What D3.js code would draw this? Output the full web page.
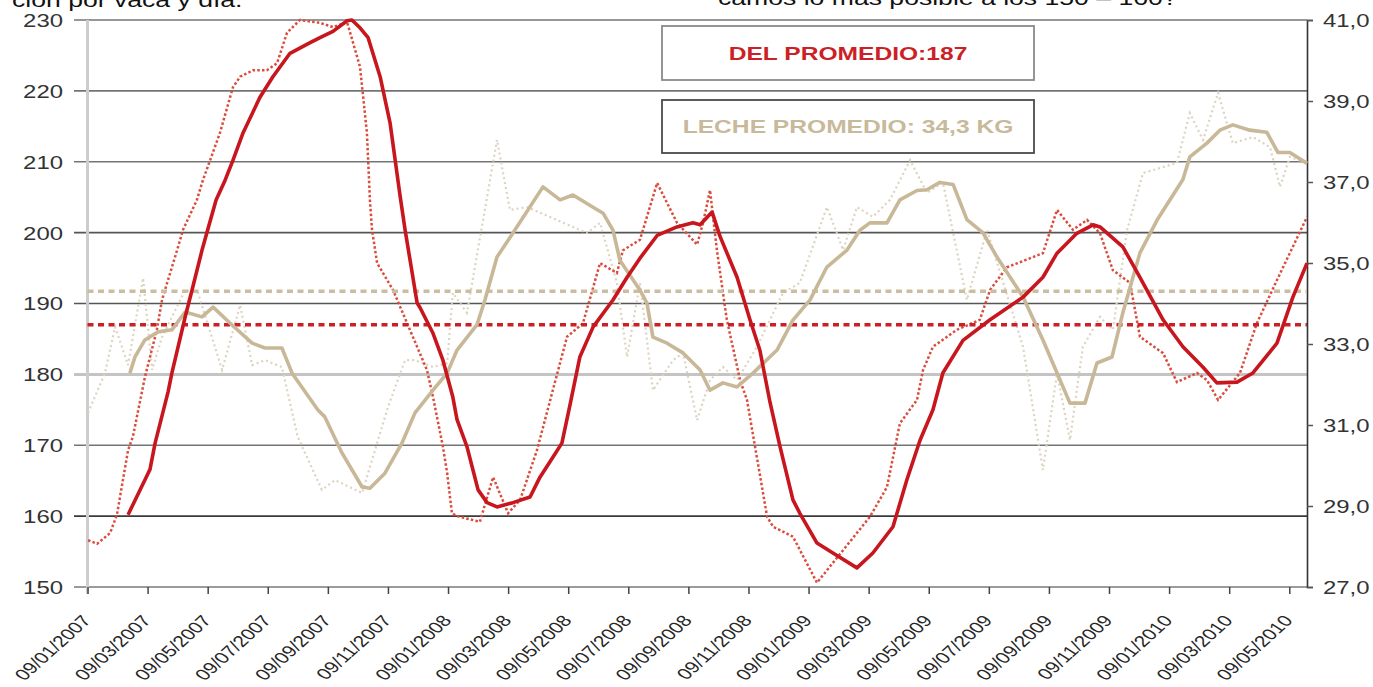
<!DOCTYPE html>
<html><head><meta charset="utf-8">
<script src="https://cdn.jsdelivr.net/npm/d3@7"></script>
<style>
body{margin:0;background:#fff;}
svg{display:block;}
text{font-family:"Liberation Sans",Arial,Helvetica,sans-serif;}
</style>
</head><body>
<svg id="chart" width="1373" height="687"></svg>
<script>
// ---------- DATA ----------
// x values are months elapsed since 09/01/2007
const tickMonths = [0,2,4,6,8,10,12,14,16,18,20,22,24,26,28,30,32,34,36,38,40];
const tickLabels = ["09/01/2007","09/03/2007","09/05/2007","09/07/2007","09/09/2007","09/11/2007",
  "09/01/2008","09/03/2008","09/05/2008","09/07/2008","09/09/2008","09/11/2008",
  "09/01/2009","09/03/2009","09/05/2009","09/07/2009","09/09/2009","09/11/2009",
  "09/01/2010","09/03/2010","09/05/2010"];
const leftTicks = [150,160,170,180,190,200,210,220,230];
const rightTicks = [27,29,31,33,35,37,39,41];
const delAverage = 187;
const milkAverage = 34.3;
const legendLabels = ["DEL PROMEDIO:187", "LECHE PROMEDIO: 34,3 KG"];
const headerTexts = ["ción por vaca y día.", "camos lo más posible a los 150 – 160?"];

// DEL (días en leche) – smoothed
const delSmoothMonths = [1.35,1.91,2.08,2.25,2.68,2.81,3.25,3.48,3.81,3.98,4.28,4.58,4.84,5.18,5.74,6.17,6.74,7.41,7.74,8.17,8.64,8.80,9.07,9.34,9.74,10.07,10.40,10.57,10.97,11.07,11.50,11.83,12.16,12.30,12.63,12.83,13.00,13.30,13.63,14.16,14.73,15.06,15.49,15.79,16.06,16.39,16.83,17.49,17.96,18.39,18.96,19.62,20.15,20.39,20.79,21.05,21.62,22.05,22.38,22.72,23.05,23.48,23.71,24.28,24.81,25.61,26.14,26.81,27.27,27.71,28.14,28.47,29.14,30.04,31.14,31.80,32.27,32.93,33.47,33.70,34.46,35.03,35.80,36.46,37.13,37.59,38.26,38.79,39.59,40.12,40.59];
const delSmoothValues = [160.2,165.1,166.6,170.3,177.5,180.2,188.1,191.9,197.5,200.1,204.6,207.4,210.2,214.1,219.1,222.0,225.3,226.8,227.5,228.4,229.9,230.0,228.9,227.5,222.0,215.5,205.3,200.4,190.1,189.4,185.8,182.0,176.8,173.6,169.8,166.5,163.7,161.9,161.3,161.9,162.7,165.5,168.3,170.3,175.7,182.5,186.7,190.5,193.7,196.4,199.6,200.8,201.4,201.1,202.9,199.5,193.7,187.7,183.4,176.0,169.8,162.3,160.4,156.2,154.8,152.7,154.8,158.5,165.1,170.7,175.0,180.2,184.8,187.7,190.9,193.7,197.1,199.9,201.1,200.8,198.0,193.7,187.7,183.9,181.0,178.8,178.9,180.2,184.4,190.9,195.7];

// DEL – raw
const delRawMonths = [0.02,0.32,0.75,0.98,1.35,1.51,1.91,2.31,2.48,2.65,2.98,3.18,3.64,3.84,4.08,4.41,4.84,5.08,5.51,5.97,6.31,6.64,7.07,7.74,8.17,8.64,9.07,9.30,9.40,9.47,9.64,10.17,10.73,11.30,11.50,11.83,11.97,12.13,12.30,13.06,13.50,14.00,14.40,14.96,15.49,15.96,16.49,17.06,17.62,17.82,18.39,18.96,19.62,20.29,20.49,20.72,20.95,21.28,21.72,21.95,22.28,22.62,22.82,23.48,24.28,24.81,26.04,26.61,27.04,27.61,27.81,28.14,28.94,29.70,30.04,30.60,31.80,32.27,32.80,33.27,33.70,34.13,34.70,35.03,35.80,36.26,36.93,37.26,37.63,38.36,38.92,39.59,40.59];
const delRawValues = [156.6,156.1,157.6,160.2,169.3,171.2,179.6,186.3,190.5,192.9,197.5,200.4,204.6,207.4,210.2,214.1,220.5,222.0,222.9,222.9,223.9,228.2,230.0,229.6,229.0,229.7,223.4,214.1,204.6,200.4,195.7,191.9,186.3,180.6,176.8,169.8,166.1,160.4,160.0,159.2,165.5,160.4,162.3,169.3,177.8,185.3,187.2,195.7,194.3,197.5,199.0,207.0,201.4,198.3,201.4,206.0,197.5,187.7,179.2,176.4,168.3,159.9,158.5,157.1,150.6,153.4,159.9,164.1,173.1,176.4,180.6,183.9,186.3,187.7,191.9,195.1,197.1,203.2,200.4,201.8,199.9,194.7,192.9,185.3,183.0,178.9,180.2,179.2,176.4,180.2,187.2,193.3,202.2];

// Leche (kg/vaca/día) – smoothed
const milkSmoothMonths = [1.41,1.58,1.91,2.35,2.81,3.25,3.81,4.18,4.81,5.48,5.91,6.47,6.81,7.67,7.90,8.47,9.14,9.40,9.90,10.47,10.90,11.50,11.97,12.30,12.96,13.23,13.63,14.16,15.16,15.73,16.16,16.73,17.16,17.49,17.72,18.39,18.62,18.82,19.29,19.82,20.39,20.72,21.15,21.62,22.15,22.95,23.48,24.05,24.61,25.28,25.71,26.04,26.61,27.04,27.61,27.94,28.37,28.81,29.27,29.80,30.27,31.14,31.80,32.37,32.70,33.20,33.60,34.10,34.46,35.03,35.60,36.46,36.69,37.26,37.69,38.12,38.69,39.25,39.62,40.02,40.59];
const milkSmoothValues = [32.28,32.68,33.10,33.30,33.35,33.79,33.67,33.91,33.47,33.02,32.90,32.90,32.28,31.37,31.20,30.31,29.47,29.44,29.81,30.56,31.30,31.86,32.28,32.85,33.47,34.09,35.15,35.74,36.88,36.56,36.68,36.42,36.23,35.81,35.07,34.33,34.01,33.17,33.02,32.78,32.36,31.86,32.04,31.94,32.28,32.85,33.59,34.09,34.90,35.32,35.81,35.99,35.99,36.56,36.79,36.81,36.99,36.94,36.07,35.75,35.15,34.16,33.10,32.11,31.54,31.54,32.53,32.68,33.77,35.25,36.06,37.06,37.62,37.96,38.28,38.41,38.28,38.23,37.73,37.73,37.46];

// Leche – raw
const milkRawMonths = [0.02,0.58,0.92,1.35,1.85,2.15,2.48,3.25,3.68,4.48,5.08,5.48,5.91,6.47,7.00,7.80,8.24,9.14,9.57,10.00,10.57,10.90,11.50,11.97,12.16,12.63,13.63,14.06,14.63,16.62,17.06,17.62,17.96,18.39,18.82,19.49,19.82,20.29,20.72,21.15,21.62,22.28,23.15,23.71,24.61,25.15,25.61,26.14,26.71,27.38,27.94,28.47,29.27,29.94,31.14,31.80,32.27,32.70,33.13,33.70,34.13,34.60,35.13,36.26,36.69,37.13,37.63,38.12,38.79,39.36,39.69,40.02,40.59];
const milkRawValues = [31.30,32.28,33.42,32.48,34.63,32.36,33.17,34.33,34.26,32.36,33.96,32.48,32.60,32.43,30.70,29.40,29.64,29.32,30.38,31.44,32.60,32.60,32.43,32.53,34.26,33.77,38.04,36.31,36.38,35.74,35.99,34.51,32.68,34.51,31.86,32.60,32.78,31.12,32.11,32.43,32.11,32.93,34.26,34.51,36.38,35.32,36.38,36.14,36.56,37.54,36.73,36.99,34.09,35.81,32.93,29.89,32.28,30.63,32.93,33.67,33.35,35.81,37.22,37.47,38.70,38.04,39.20,37.96,38.11,37.86,36.88,37.62,37.46];

// ---------- CHART ----------
const plotLeft = 87.5, plotRight = 1307, plotTop = 20, plotBottom = 587;
const SX = 1.33; // horizontal text stretch of the original

const svg = d3.select("#chart");
const x = d3.scaleLinear().domain([0, 40.59]).range([plotLeft, plotRight]);
const yL = d3.scaleLinear().domain([150, 230]).range([plotBottom, plotTop]);
const yR = d3.scaleLinear().domain([27, 41]).range([plotBottom, plotTop]);

// header texts (cut off at the top, as in the original)
svg.append("text").attr("transform", `translate(12,7) scale(${SX},1)`)
  .attr("font-size", 20).attr("fill", "#111").text(headerTexts[0]);
svg.append("text").attr("transform", `translate(718,5) scale(${SX},1)`)
  .attr("font-size", 20).attr("fill", "#111").text(headerTexts[1]);

// gridlines
const gridColor = v => v === 180 ? "#c4c4c4" : (v === 160 ? "#3a3a3a" : (v === 150 ? "#7a7a7a" : (v===200||v===190 ? "#555" : "#747474")));
const gridWidth = v => v === 180 ? 3 : 1.6;
svg.append("g").selectAll("line").data(leftTicks).join("line")
  .attr("x1", 74).attr("x2", plotRight)
  .attr("y1", d => yL(d)).attr("y2", d => yL(d))
  .attr("stroke", gridColor).attr("stroke-width", gridWidth);

// left light vertical axis line
svg.append("line").attr("x1", plotLeft).attr("x2", plotLeft).attr("y1", plotTop).attr("y2", plotBottom + 7)
  .attr("stroke", "#cdcdcd").attr("stroke-width", 3);

// left axis labels
const gLeft = svg.append("g").attr("transform", "translate(75,0)")
  .call(d3.axisLeft(yL).tickValues(leftTicks).tickSize(0).tickPadding(0));
gLeft.select(".domain").remove();
gLeft.selectAll("text").attr("x", -12 / SX).attr("dy", "0.36em")
  .attr("transform", `scale(${SX},1)`).attr("font-size", 18).attr("fill", "#333")
  .style("font-family", '"Liberation Sans",Arial,sans-serif');

// right axis
const gRight = svg.append("g").attr("transform", `translate(${plotRight},0)`)
  .call(d3.axisRight(yR).tickValues(rightTicks).tickSize(6).tickPadding(0)
    .tickFormat(d => d3.format(".1f")(d).replace(".", ",")));
gRight.select(".domain").attr("stroke", "#333").attr("stroke-width", 1.6);
gRight.selectAll(".tick line").attr("stroke", "#555").attr("stroke-width", 1.5);
gRight.selectAll("text").attr("x", 16 / SX).attr("dy", "0.36em")
  .attr("transform", `scale(${SX},1)`).attr("font-size", 18).attr("fill", "#333")
  .style("font-family", '"Liberation Sans",Arial,sans-serif');

// bottom axis
const gBottom = svg.append("g").attr("transform", `translate(0,${plotBottom})`)
  .call(d3.axisBottom(x).tickValues(tickMonths).tickSize(7).tickPadding(0)
    .tickFormat((d, i) => tickLabels[i]));
gBottom.select(".domain").remove();
gBottom.selectAll(".tick line").attr("stroke", "#444").attr("stroke-width", 1.5);
gBottom.selectAll("text").attr("x", 0).attr("y", 0).attr("dy", 0)
  .attr("text-anchor", "end")
  .attr("transform", `translate(4,34) scale(${SX},1) rotate(-50)`)
  .attr("font-size", 15.8).attr("fill", "#262626")
  .style("font-family", '"Liberation Sans",Arial,sans-serif');

// lines
const lineL = d3.line().x(d => x(d[0])).y(d => yL(d[1]));
const lineR = d3.line().x(d => x(d[0])).y(d => yR(d[1]));
const zip = (a, b) => a.map((v, i) => [v, b[i]]);

svg.append("path").datum(zip(milkRawMonths, milkRawValues)).attr("d", lineR)
  .attr("fill", "none").attr("stroke", "#ddd3c1").attr("stroke-width", 2.2)
  .attr("stroke-dasharray", "2,3");
svg.append("path").datum(zip(delRawMonths, delRawValues)).attr("d", lineL)
  .attr("fill", "none").attr("stroke", "#da4c3c").attr("stroke-width", 2.5)
  .attr("stroke-dasharray", "2.5,2.2");

// average lines
svg.append("line").attr("x1", plotLeft).attr("x2", plotRight)
  .attr("y1", yR(milkAverage)).attr("y2", yR(milkAverage))
  .attr("stroke", "#cbbd9f").attr("stroke-width", 3.5).attr("stroke-dasharray", "6,4.5");
svg.append("line").attr("x1", plotLeft).attr("x2", plotRight)
  .attr("y1", yL(delAverage)).attr("y2", yL(delAverage))
  .attr("stroke", "#cc1f26").attr("stroke-width", 3.5).attr("stroke-dasharray", "6,4.5");

svg.append("path").datum(zip(milkSmoothMonths, milkSmoothValues)).attr("d", lineR)
  .attr("fill", "none").attr("stroke", "#c8b898").attr("stroke-width", 3.6)
  .attr("stroke-linejoin", "round");
svg.append("path").datum(zip(delSmoothMonths, delSmoothValues)).attr("d", lineL)
  .attr("fill", "none").attr("stroke", "#c8161e").attr("stroke-width", 3.6)
  .attr("stroke-linejoin", "round");

// legend boxes
const boxes = [
  {y: 26, h: 54, stroke: "#8a8a8a", color: "#cc1f26"},
  {y: 100, h: 53, stroke: "#4a4a4a", color: "#c8b99a"}
];
boxes.forEach((b, i) => {
  svg.append("rect").attr("x", 662).attr("y", b.y).attr("width", 372).attr("height", b.h)
    .attr("fill", "#fff").attr("stroke", b.stroke).attr("stroke-width", 1.8);
  svg.append("text").attr("transform", `translate(848,${b.y + b.h / 2 + 6.5}) scale(${SX},1)`)
    .attr("text-anchor", "middle").attr("font-size", 18.5).attr("font-weight", "bold")
    .attr("fill", b.color).text(legendLabels[i]);
});
</script>
</body></html>
